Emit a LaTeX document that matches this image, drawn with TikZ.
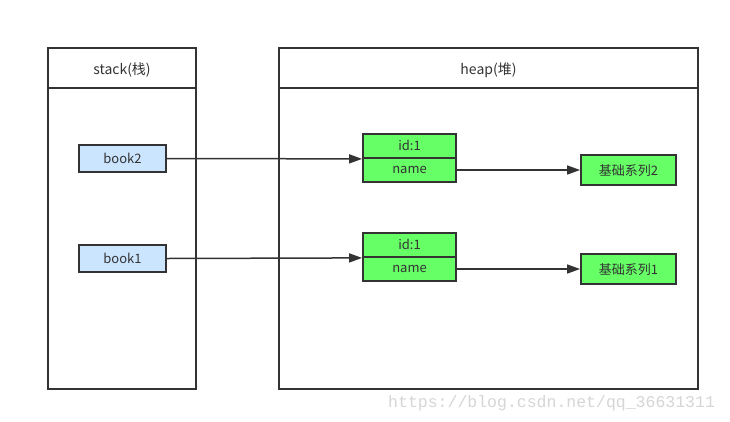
\documentclass[tikz,border=0pt]{standalone}
\usepackage{fontspec}
\newfontfamily\cjk{Noto Sans CJK SC}
\usetikzlibrary{arrows.meta}
\definecolor{strk}{HTML}{333333}
\definecolor{bluef}{HTML}{CCE5FF}
\definecolor{greenf}{HTML}{66FF66}
\begin{document}
\begin{tikzpicture}[x=1pt,y=-1pt,
  panel/.style={draw=strk,line width=2pt,fill=white},
  lbl/.style={font=\cjk\fontsize{13}{14}\selectfont,text=strk,text depth=0.5pt},
  varbox/.style={lbl,draw=strk,line width=1.8pt,fill=bluef,minimum width=87pt,minimum height=27pt,inner sep=0pt},
  objcell/.style={lbl,draw=strk,line width=1.8pt,fill=greenf,minimum width=93pt,minimum height=24pt,inner sep=0pt},
  valbox/.style={lbl,draw=strk,line width=1.8pt,fill=greenf,minimum width=95pt,minimum height=30pt,inner sep=0pt},
  title/.style={font=\cjk\fontsize{14}{16}\selectfont,text=strk},
  link/.style={draw=strk,line width=1.5pt,-{Triangle[length=13pt,width=9pt]}}
]
\useasboundingbox[fill=white] (0,0) rectangle (730,421);
% stack panel
\draw[panel] (48,48) rectangle (196,389);
\draw[strk,line width=2pt] (48,88) -- (196,88);
\node[title] (stk) at (122,70) {stack(栈)};
% heap panel
\draw[panel] (279,48) rectangle (698,389);
\draw[strk,line width=2pt] (279,88) -- (698,88);
\node[title] (hp) at (488.5,70) {heap(堆)};
% stack vars
\node[varbox] (b2) at (122.5,158.5) {book2};
\node[varbox] (b1) at (122.5,258.5) {book1};
% objects
\node[objcell] (id2) at (409.5,146) {id:1};
\node[objcell] (n2) at (409.5,170) {name};
\node[objcell] (id1) at (409.5,245) {id:1};
\node[objcell] (n1) at (409.5,269) {name};
% values
\node[valbox] (v2) at (628.5,170) {基础系列2};
\node[valbox] (v1) at (628.5,269) {基础系列1};
% connectors
\coordinate (t2) at (id2.south west);
\coordinate (t1) at (id1.south west);
\draw[link] (b2.east) -- (t2);
\draw[link] (b1.east) -- (t1);
\draw[link] (n2.east) -- (v2.west);
\draw[link] (n1.east) -- (v1.west);
% watermark
\node[anchor=base west,inner sep=0pt,font=\fontspec{Liberation Mono}\fontsize{16.5}{18}\selectfont,text=black!16] (wm) at (388,407) {https://blog.csdn.net/qq\_36631311};
\end{tikzpicture}
\end{document}
